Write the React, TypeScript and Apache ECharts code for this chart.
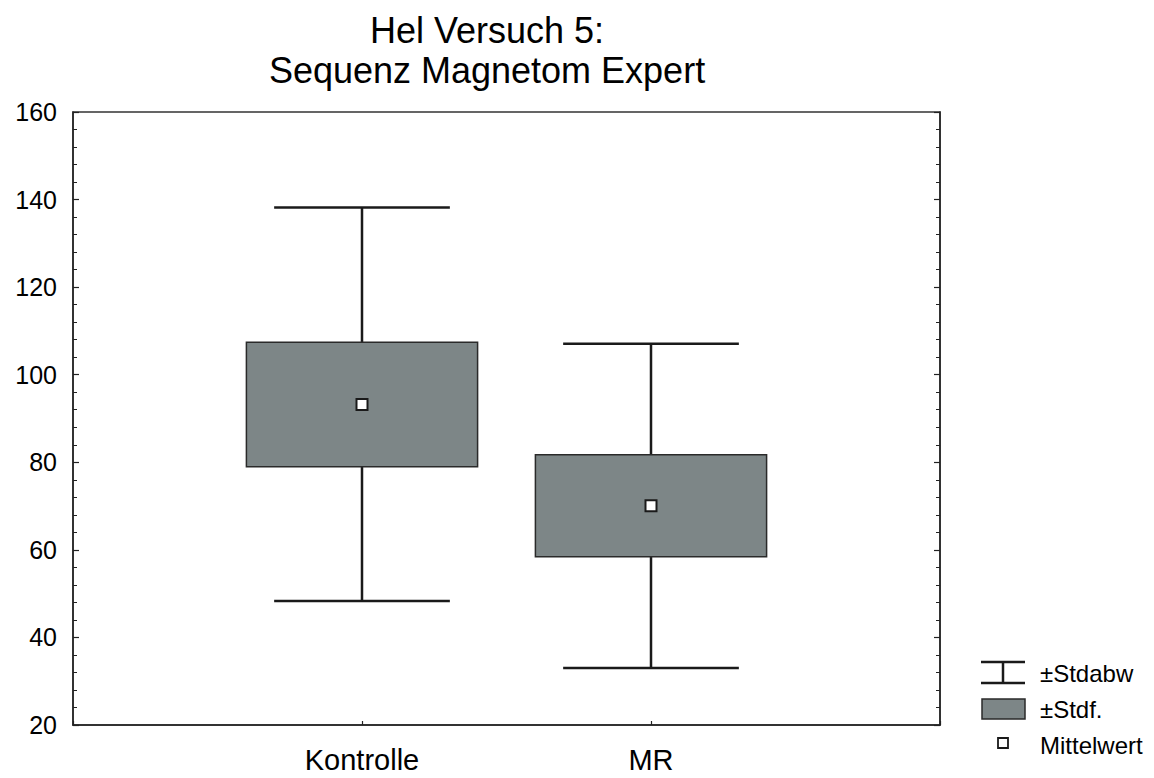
import React, { useEffect, useRef } from "react";
import * as echarts from "echarts";

const TITLE = "Hel Versuch 5:\nSequenz Magnetom Expert";
const CATEGORIES = ["Kontrolle", "MR"];
const MEANS = [93.2, 70.1];
const SE_LOW = [79.0, 58.4];
const SE_HIGH = [107.4, 81.7];
const SD_LOW = [48.3, 33.0];
const SD_HIGH = [138.2, 107.1];
const Y_MIN = 20;
const Y_MAX = 160;
const Y_STEP = 20;
const LEGEND_LABELS = ["±Stdabw", "±Stdf.", "Mittelwert"];

const FONT = "'Liberation Sans', Arial, Helvetica, sans-serif";
const BOX_FILL = "#7d8687";
const DARK = "#1a1a1a";

export default function App() {
  const ref = useRef<HTMLDivElement>(null);

  useEffect(() => {
    document.body.style.margin = "0";
    if (!ref.current) return;
    const chart = echarts.init(ref.current, null, { renderer: "svg" });

    const data = CATEGORIES.map((_, i) => [
      i + 1,
      MEANS[i],
      SE_LOW[i],
      SE_HIGH[i],
      SD_LOW[i],
      SD_HIGH[i],
    ]);

    const renderItem = (params: any, api: any) => {
      const x = api.value(0);
      const mean = api.value(1);
      const seLo = api.value(2);
      const seHi = api.value(3);
      const sdLo = api.value(4);
      const sdHi = api.value(5);
      const pMean = api.coord([x, mean]);
      const pSeLo = api.coord([x, seLo]);
      const pSeHi = api.coord([x, seHi]);
      const pSdLo = api.coord([x, sdLo]);
      const pSdHi = api.coord([x, sdHi]);
      const boxW = api.size([0.8, 0])[0];
      const capW = api.size([0.608, 0])[0];
      const cx = pMean[0];
      const lineStyle = { stroke: DARK, lineWidth: 2.5, fill: "none" };
      return {
        type: "group",
        children: [
          {
            type: "line",
            shape: { x1: cx, y1: pSdLo[1], x2: cx, y2: pSdHi[1] },
            style: lineStyle,
          },
          {
            type: "line",
            shape: { x1: cx - capW / 2, y1: pSdHi[1], x2: cx + capW / 2, y2: pSdHi[1] },
            style: lineStyle,
          },
          {
            type: "line",
            shape: { x1: cx - capW / 2, y1: pSdLo[1], x2: cx + capW / 2, y2: pSdLo[1] },
            style: lineStyle,
          },
          {
            type: "rect",
            shape: {
              x: cx - boxW / 2,
              y: pSeHi[1],
              width: boxW,
              height: pSeLo[1] - pSeHi[1],
            },
            style: { fill: BOX_FILL, stroke: "#2a2a2a", lineWidth: 1.5 },
          },
          {
            type: "rect",
            shape: { x: cx - 5.5, y: pMean[1] - 5.5, width: 11, height: 11 },
            style: { fill: "#ffffff", stroke: DARK, lineWidth: 2 },
          },
        ],
      };
    };

    const legendText = (label: string, y: number) => ({
      type: "text",
      x: 1040,
      y,
      style: {
        text: label,
        fontSize: 24,
        fontFamily: FONT,
        fill: "#000",
        verticalAlign: "middle",
        align: "left",
      },
    });

    const legendGraphic: any[] = [
      { type: "line", shape: { x1: 981, y1: 662, x2: 1025, y2: 662 }, style: { stroke: DARK, lineWidth: 2.5 } },
      { type: "line", shape: { x1: 981, y1: 683, x2: 1025, y2: 683 }, style: { stroke: DARK, lineWidth: 2.5 } },
      { type: "line", shape: { x1: 1003, y1: 662, x2: 1003, y2: 683 }, style: { stroke: DARK, lineWidth: 2.5 } },
      legendText(LEGEND_LABELS[0], 673),
      {
        type: "rect",
        shape: { x: 982, y: 699, width: 43, height: 20 },
        style: { fill: BOX_FILL, stroke: "#2a2a2a", lineWidth: 1.5 },
      },
      legendText(LEGEND_LABELS[1], 709),
      {
        type: "rect",
        shape: { x: 998, y: 738, width: 10, height: 10 },
        style: { fill: "#fff", stroke: DARK, lineWidth: 1.8 },
      },
      legendText(LEGEND_LABELS[2], 745),
    ];

    const yAxisCommon = {
      type: "value",
      min: Y_MIN,
      max: Y_MAX,
      interval: Y_STEP,
      axisLine: { show: true, lineStyle: { color: "#222", width: 1.5 } },
      axisTick: { show: true, inside: true, length: 6, lineStyle: { color: "#222", width: 1.2 } },
      minorTick: { show: true, splitNumber: 5, length: 4, lineStyle: { color: "#222", width: 1 } },
      splitLine: { show: false },
    };

    chart.setOption({
      animation: false,
      backgroundColor: "#ffffff",
      title: {
        text: TITLE,
        left: 487,
        top: 10,
        textAlign: "center",
        padding: 0,
        textStyle: {
          fontFamily: FONT,
          fontSize: 36,
          lineHeight: 40,
          fontWeight: "normal",
          color: "#000",
        },
      },
      grid: {
        left: 73,
        right: 214,
        top: 112,
        bottom: 53,
        show: true,
        borderColor: "#333",
        borderWidth: 1.5,
        backgroundColor: "transparent",
      },
      xAxis: {
        type: "value",
        min: 0,
        max: 3,
        interval: 1,
        axisLine: { show: true, lineStyle: { color: "#222", width: 1.5 } },
        axisTick: { show: true, inside: true, length: 4, lineStyle: { color: "#222", width: 1.2 } },
        splitLine: { show: false },
        axisLabel: {
          margin: 20,
          fontSize: 29,
          fontFamily: FONT,
          color: "#000",
          formatter: (v: number) => CATEGORIES[v - 1] ?? "",
        },
      },
      yAxis: [
        {
          ...yAxisCommon,
          position: "left",
          axisLabel: {
            margin: 16,
            fontSize: 25,
            fontFamily: FONT,
            color: "#000",
          },
        },
        {
          ...yAxisCommon,
          position: "right",
          axisLabel: { show: false },
        },
      ],
      series: [
        {
          type: "custom",
          renderItem,
          data,
          encode: { x: 0, y: [1, 2, 3, 4, 5] },
          clip: false,
        },
      ],
      graphic: legendGraphic,
    });

    return () => chart.dispose();
  }, []);

  return <div ref={ref} style={{ width: 1154, height: 778 }} />;
}
